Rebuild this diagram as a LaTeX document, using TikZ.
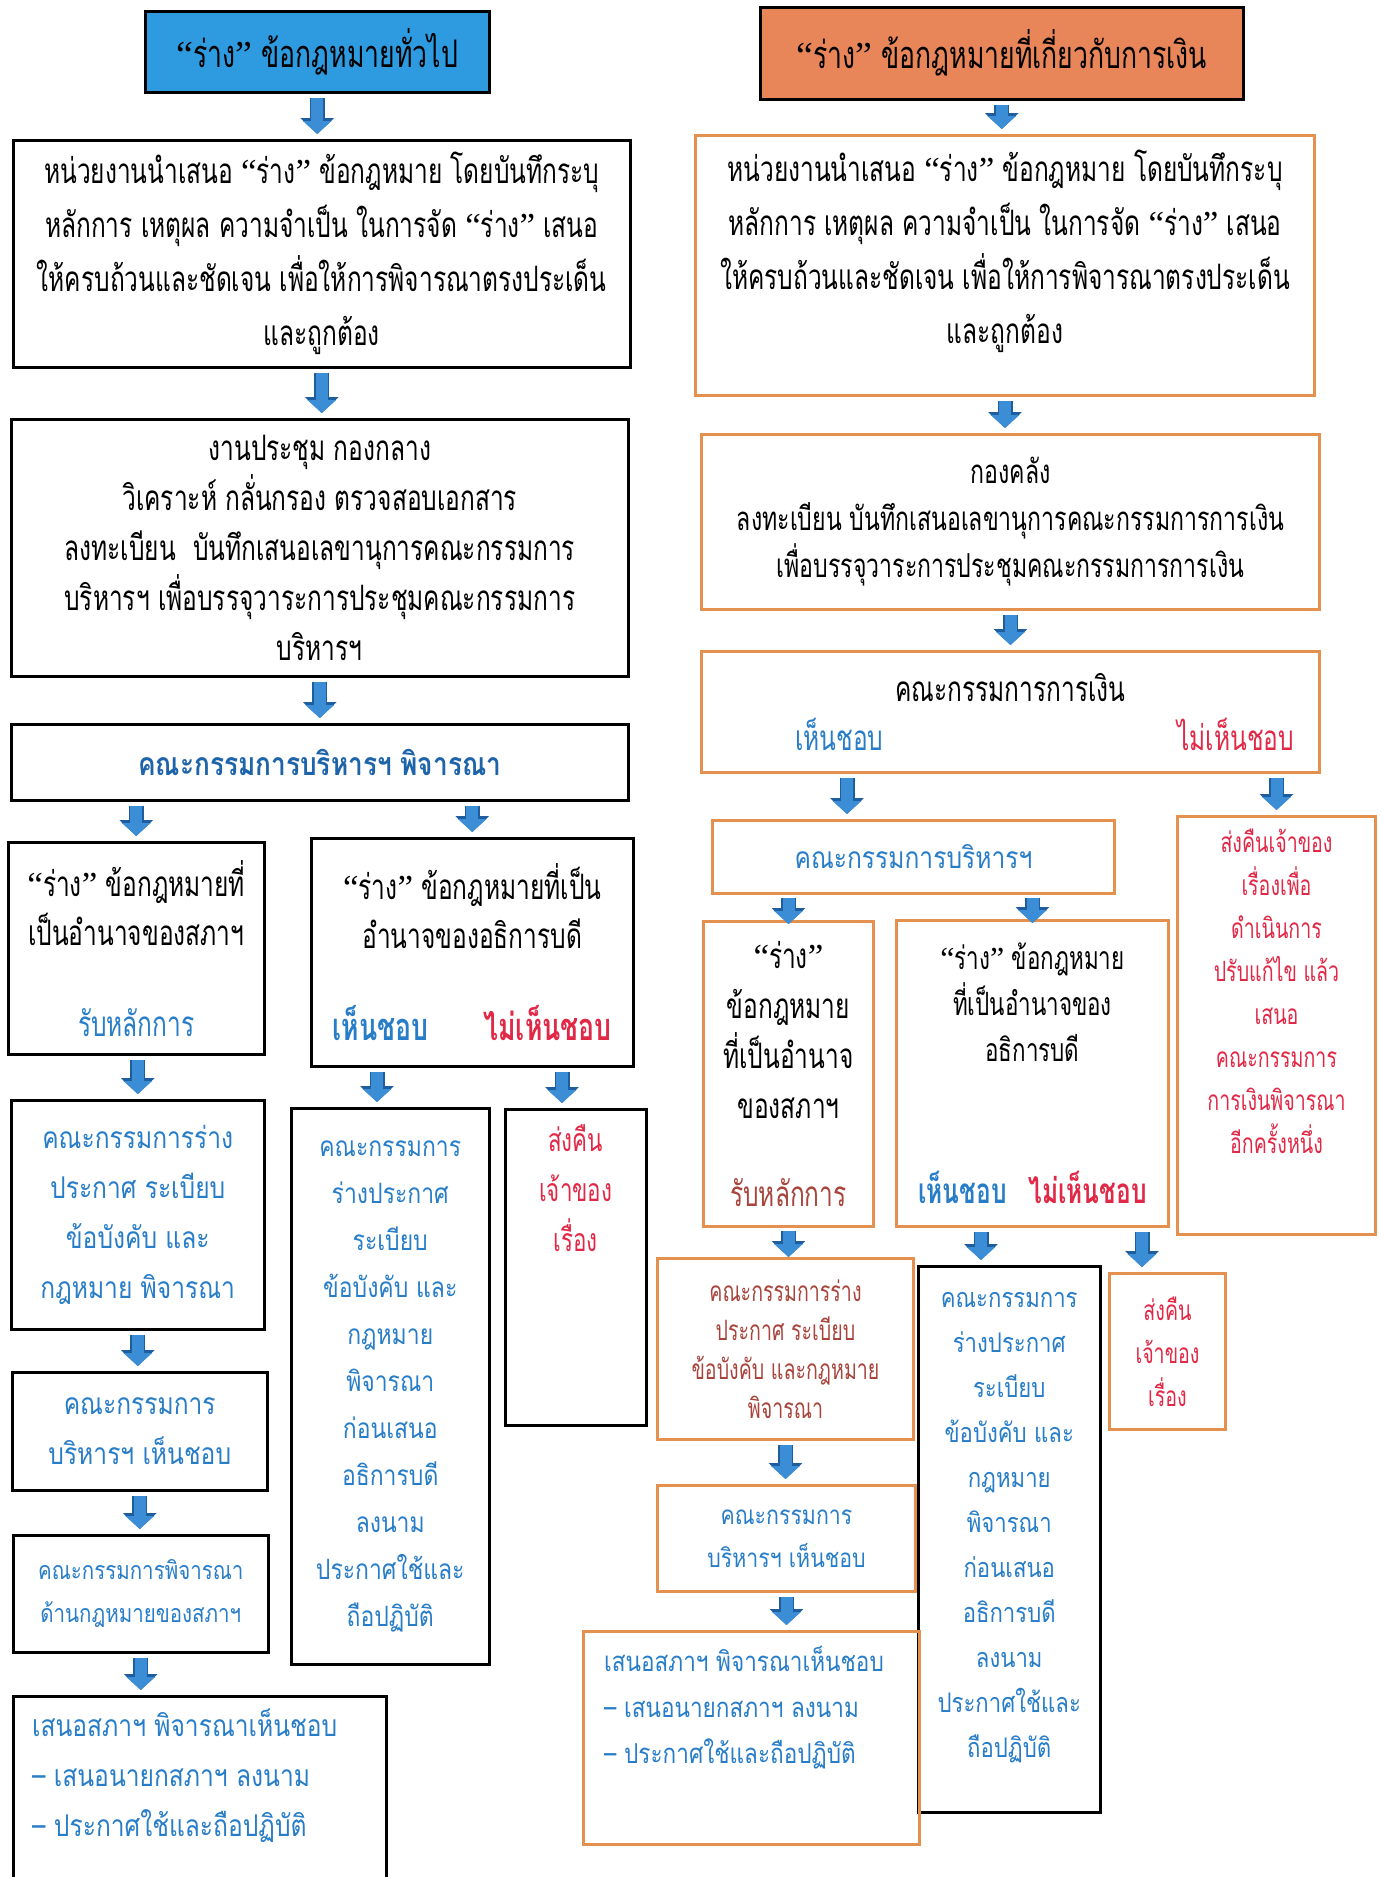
\documentclass[tikz,border=0pt]{standalone}
\usepackage{fontspec}
\setmainfont[Script=Thai]{Loma}
\newfontfamily\thaithin[Script=Thai,FakeStretch=0.7]{Loma}
\newfontfamily\thaiwide[Script=Thai,FakeStretch=0.82]{Loma}
\newfontfamily\quotefont{Liberation Serif}
\newcommand{\openq}{{\quotefont “}}
\newcommand{\closeq}{{\quotefont ”}}
\usetikzlibrary{arrows.meta,positioning}

\definecolor{titleblue}{RGB}{46,155,224}
\definecolor{titleorange}{RGB}{232,134,90}
\definecolor{boxorange}{RGB}{228,145,80}
\definecolor{arrowblue}{RGB}{59,141,214}
\definecolor{arrowedge}{RGB}{31,94,158}
\definecolor{txtblue}{RGB}{40,125,200}
\definecolor{deepblue}{RGB}{30,100,170}
\definecolor{txtred}{RGB}{225,40,70}
\definecolor{txtbrown}{RGB}{168,68,60}

\begin{document}
\begin{tikzpicture}[x=1pt, y=-1pt,
	box/.style={draw=black, line width=2.5pt, anchor=north west, align=center, inner sep=0pt,
		font=\thaithin\fontsize{35}{54}\selectfont},
	obox/.style={box, draw=boxorange, line width=3pt},
	wide/.style={font=\thaiwide\fontsize{30}{50}\selectfont, text=txtblue},
	note/.style={align=center, inner sep=0pt},
	blk/.style={draw=arrowblue, line width=12pt, -{Triangle[width=28pt,length=13pt]},
		shorten <=4pt, shorten >=#1,
		preaction={draw=arrowedge, line width=15pt, -{Triangle[width=33pt,length=16pt]}}},
	blk/.default=5pt]
	\useasboundingbox (0,0) rectangle (1381,1877);
	\fill[white] (0,0) rectangle (1381,1877);
	\clip (0,0) rectangle (1381,1877);

	% Left column
	\node[box, fill=titleblue, minimum width=344pt, minimum height=81pt, font=\thaithin\fontsize{38}{54}\selectfont] (gtitle) at (144,10)
		{\openq ร่าง\closeq\ ข้อกฎหมายทั่วไป};
	\node[box, minimum width=617pt, minimum height=227pt] (g2) at (12,139)
		{หน่วยงานนำเสนอ \openq ร่าง\closeq\ ข้อกฎหมาย โดยบันทึกระบุ\\หลักการ เหตุผล ความจำเป็น ในการจัด \openq ร่าง\closeq\ เสนอ\\ให้ครบถ้วนและชัดเจน เพื่อให้การพิจารณาตรงประเด็น\\และถูกต้อง};
	\node[box, minimum width=617pt, minimum height=257pt, font=\thaithin\fontsize{35}{50}\selectfont] (g3) at (10,418)
		{งานประชุม กองกลาง\\วิเคราะห์ กลั่นกรอง ตรวจสอบเอกสาร\\ลงทะเบียน\enspace บันทึกเสนอเลขานุการคณะกรรมการ\\บริหารฯ เพื่อบรรจุวาระการประชุมคณะกรรมการ\\บริหารฯ};
	\node[box, minimum width=617pt, minimum height=76pt, font=\thaiwide\bfseries\fontsize{32}{50}\selectfont, text=deepblue] (g4) at (10,723)
		{คณะกรรมการบริหารฯ พิจารณา};
	\node[box, minimum width=256pt, minimum height=212pt, font=\thaithin\fontsize{35}{49}\selectfont] (g5a) at (7,841)
		{\openq ร่าง\closeq\ ข้อกฎหมายที่\\เป็นอำนาจของสภาฯ\\[42pt]\textcolor{txtblue}{รับหลักการ}};
	\node[box, minimum width=322pt, minimum height=228pt, font=\thaithin\fontsize{35}{49}\selectfont] (g5b) at (310,837)
		{\openq ร่าง\closeq\ ข้อกฎหมายที่เป็น\\อำนาจของอธิการบดี\\[43pt]{\fontsize{38}{49}\selectfont\bfseries\textcolor{txtblue}{เห็นชอบ}\hspace{55pt}\textcolor{txtred}{ไม่เห็นชอบ}}};
	\node[box, minimum width=253pt, minimum height=229pt, wide] (g6a) at (10,1099)
		{คณะกรรมการร่าง\\ประกาศ ระเบียบ\\ข้อบังคับ และ\\กฎหมาย พิจารณา};
	\node[box, minimum width=198pt, minimum height=556pt, wide, font=\thaiwide\fontsize{28}{47}\selectfont] (g6b) at (290,1107)
		{คณะกรรมการ\\ร่างประกาศ\\ระเบียบ\\ข้อบังคับ และ\\กฎหมาย\\พิจารณา\\ก่อนเสนอ\\อธิการบดี\\ลงนาม\\ประกาศใช้และ\\ถือปฏิบัติ};
	\node[box, minimum width=141pt, minimum height=316pt] (g6c) at (504,1108) {};
	\node[note, anchor=north, text=txtred, font=\thaithin\fontsize{32}{50}\selectfont] (g6ctext) at ([yshift=-16pt]g6c.north)
		{ส่งคืน\\เจ้าของ\\เรื่อง};
	\node[box, minimum width=255pt, minimum height=118pt, wide] (g7a) at (11,1371) {คณะกรรมการ\\บริหารฯ เห็นชอบ};
	\node[box, minimum width=255pt, minimum height=117pt, wide, font=\thaiwide\fontsize{25}{43}\selectfont] (g8a) at (12,1534)
		{คณะกรรมการพิจารณา\\ด้านกฎหมายของสภาฯ};
	\node[box, minimum width=373pt, minimum height=220pt] (g9a) at (12,1695) {};
	\node[note, anchor=north west, align=left, wide] (g9atext) at ([xshift=20pt,yshift=-14pt]g9a.north west)
		{เสนอสภาฯ พิจารณาเห็นชอบ\\– เสนอนายกสภาฯ ลงนาม\\– ประกาศใช้และถือปฏิบัติ};

	% Right column
	\node[box, fill=titleorange, minimum width=483pt, minimum height=92pt, font=\thaithin\fontsize{38}{54}\selectfont] (ftitle) at (759,6)
		{\openq ร่าง\closeq\ ข้อกฎหมายที่เกี่ยวกับการเงิน};
	\node[obox, minimum width=619pt, minimum height=260pt] (f2) at (694,134) {};
	\node[note, font=\thaithin\fontsize{35}{54}\selectfont] (f2text) at ([yshift=14pt]f2.center)
		{หน่วยงานนำเสนอ \openq ร่าง\closeq\ ข้อกฎหมาย โดยบันทึกระบุ\\หลักการ เหตุผล ความจำเป็น ในการจัด \openq ร่าง\closeq\ เสนอ\\ให้ครบถ้วนและชัดเจน เพื่อให้การพิจารณาตรงประเด็น\\และถูกต้อง};
	\node[obox, minimum width=618pt, minimum height=175pt, font=\thaithin\fontsize{33}{47}\selectfont] (f3) at (700,433)
		{กองคลัง\\ลงทะเบียน บันทึกเสนอเลขานุการคณะกรรมการการเงิน\\เพื่อบรรจุวาระการประชุมคณะกรรมการการเงิน};
	\node[obox, minimum width=618pt, minimum height=121pt, font=\thaithin\fontsize{35}{49}\selectfont] (f4) at (700,650)
		{คณะกรรมการการเงิน\\\hspace*{68pt}\textcolor{txtblue}{เห็นชอบ}\hspace{294pt}\textcolor{txtred}{ไม่เห็นชอบ}};
	\node[obox, minimum width=402pt, minimum height=73pt, wide] (f5) at (711,819) {คณะกรรมการบริหารฯ};
	\node[obox, minimum width=198pt, minimum height=418pt] (f5c) at (1176,815) {};
	\node[note, anchor=north, text=txtred, font=\thaithin\fontsize{28}{43}\selectfont] (f5ctext) at ([yshift=-14pt]f5c.north)
		{ส่งคืนเจ้าของ\\เรื่องเพื่อ\\ดำเนินการ\\ปรับแก้ไข แล้ว\\เสนอ\\คณะกรรมการ\\การเงินพิจารณา\\อีกครั้งหนึ่ง};
	\node[obox, minimum width=170pt, minimum height=305pt, font=\thaithin\fontsize{35}{50}\selectfont] (f6a) at (702,920)
		{\openq ร่าง\closeq\\ข้อกฎหมาย\\ที่เป็นอำนาจ\\ของสภาฯ\\[38pt]\textcolor{txtbrown}{รับหลักการ}};
	\node[obox, minimum width=272pt, minimum height=306pt, font=\thaithin\fontsize{32}{46}\selectfont] (f6b) at (895,919)
		{\openq ร่าง\closeq\ ข้อกฎหมาย\\ที่เป็นอำนาจของ\\อธิการบดี\\[96pt]{\fontsize{35}{46}\selectfont\bfseries\textcolor{txtblue}{เห็นชอบ}\hspace{22pt}\textcolor{txtred}{ไม่เห็นชอบ}}};
	\node[obox, minimum width=256pt, minimum height=181pt, text=txtbrown, font=\thaithin\fontsize{28}{39}\selectfont] (f7a) at (656,1257)
		{คณะกรรมการร่าง\\ประกาศ ระเบียบ\\ข้อบังคับ และกฎหมาย\\พิจารณา};
	\node[box, minimum width=182pt, minimum height=546pt] (f7b) at (917,1265) {};
	\node[note, wide, font=\thaiwide\fontsize{27}{45}\selectfont] (f7btext) at ([yshift=12pt]f7b.center)
		{คณะกรรมการ\\ร่างประกาศ\\ระเบียบ\\ข้อบังคับ และ\\กฎหมาย\\พิจารณา\\ก่อนเสนอ\\อธิการบดี\\ลงนาม\\ประกาศใช้และ\\ถือปฏิบัติ};
	\node[obox, minimum width=116pt, minimum height=156pt, text=txtred, font=\thaithin\fontsize{28}{43}\selectfont] (f7c) at (1108,1272)
		{ส่งคืน\\เจ้าของ\\เรื่อง};
	\node[obox, minimum width=258pt, minimum height=106pt, wide, font=\thaiwide\fontsize{26}{43}\selectfont] (f8a) at (656,1484)
		{คณะกรรมการ\\บริหารฯ เห็นชอบ};
	\node[obox, minimum width=336pt, minimum height=213pt] (f9a) at (582,1630) {};
	\node[note, anchor=north west, align=left, wide, font=\thaiwide\fontsize{27.5}{46}\selectfont] (f9atext) at ([xshift=22pt,yshift=-16pt]f9a.north west)
		{เสนอสภาฯ พิจารณาเห็นชอบ\\– เสนอนายกสภาฯ ลงนาม\\– ประกาศใช้และถือปฏิบัติ};

	% Arrow positions under the yes / no words
	\coordinate (yesL) at (377,0);
	\coordinate (noL) at (562,0);
	\coordinate (yesF) at (847,0);
	\coordinate (yesR) at (981,0);
	\coordinate (noR) at (1142,0);

	% Draw arrows
	\foreach \a/\b in {gtitle/g2, g2/g3, g3/g4, g6a/g7a, g7a/g8a, g8a/g9a, ftitle/f2, f2/f3, f3/f4, f7a/f8a, f8a/f9a}
	\draw[blk] (\a.south) -- (\a.south |- \b.north);
	\foreach \a/\b in {g4/g5a, g4/g5b, g5a/g6a, f4/f5c}
	\draw[blk] (\a.south -| \b.north) -- (\b.north);
	\foreach \a/\b/\p in {g5b/g6b/yesL, g5b/g6c/noL, f4/f5/yesF, f6b/f7b/yesR, f6b/f7c/noR}
	\draw[blk] (\a.south -| \p) -- (\b.north -| \p);
	\foreach \b in {f6a, f6b}
	\draw[blk=-4pt, shorten <=3pt] (f5.south -| \b.north) -- (\b.north);
	\draw[blk=0pt, shorten <=3pt] (f6a.south) -- (f6a.south |- f7a.north);
\end{tikzpicture}
\end{document}
